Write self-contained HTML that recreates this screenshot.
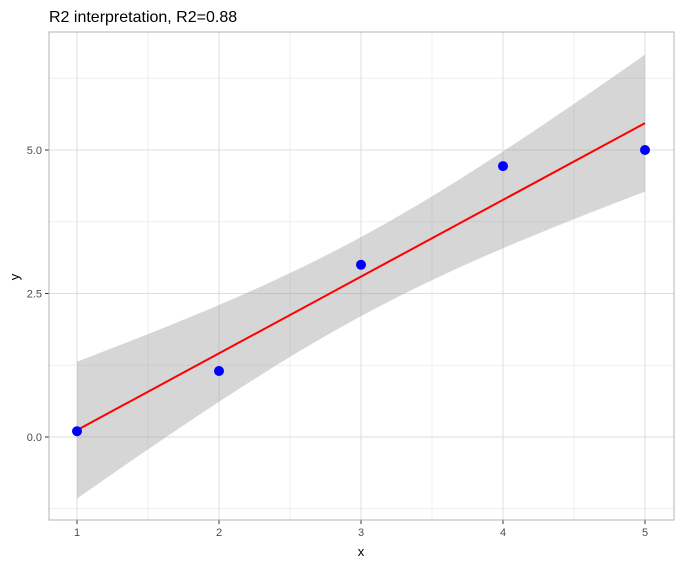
<!DOCTYPE html>
<html><head><meta charset="utf-8"><style>
body{margin:0;background:#fff;font-family:"Liberation Sans",Arial,sans-serif}
</style></head><body>
<svg id="c" width="681" height="566" xmlns="http://www.w3.org/2000/svg">
<text x="49" y="22" font-size="16" fill="#000">R2 interpretation, R2=0.88</text>
<text x="361" y="556" font-size="13" text-anchor="middle" fill="#000">x</text>
<text x="19" y="277" font-size="13" text-anchor="middle" fill="#000" transform="rotate(-90 19 277)">y</text>
</svg>
<script>
const xs=[1,2,3,4,5];
const ys=[0.10,1.15,3.00,4.72,5.00];
const xTicks=[1,2,3,4,5];
const yTicks=[0,2.5,5];
const yTickLabels=["0.0","2.5","5.0"];
const xMinor=[1.5,2.5,3.5,4.5];
const yMinor=[-1.25,1.25,3.75,6.25];
const L=49,R=674,T=32,B=520;
const X=v=>77+(v-1)*142;
const Y=v=>437-v*57.4;
const svg=document.getElementById('c');
const NS='http://www.w3.org/2000/svg';
function mk(t,a){const e=document.createElementNS(NS,t);for(const k in a)e.setAttribute(k,a[k]);svg.appendChild(e);return e;}
// grid
xMinor.forEach(v=>{const e=mk('line',{x1:X(v),x2:X(v),y1:T,y2:B,stroke:'#ebebeb','stroke-width':0.8});});
yMinor.forEach(v=>{const e=mk('line',{x1:L,x2:R,y1:Y(v),y2:Y(v),stroke:'#ebebeb','stroke-width':0.8});});
xTicks.forEach(v=>{const e=mk('line',{x1:X(v),x2:X(v),y1:T,y2:B,stroke:'#dedede','stroke-width':1});
const t=mk('line',{x1:X(v),x2:X(v),y1:B,y2:B+4,stroke:'#333','stroke-width':1});
const l=mk('text',{x:X(v),y:B+16,'font-size':11,'text-anchor':'middle',fill:'#4d4d4d'});l.textContent=v;});
yTicks.forEach((v,i)=>{const e=mk('line',{x1:L,x2:R,y1:Y(v),y2:Y(v),stroke:'#dedede','stroke-width':1});
const t=mk('line',{x1:L-4,x2:L,y1:Y(v),y2:Y(v),stroke:'#333','stroke-width':1});
const l=mk('text',{x:L-7,y:Y(v)+4,'font-size':11,'text-anchor':'end',fill:'#4d4d4d'});l.textContent=yTickLabels[i];});
// regression
const n=xs.length,mx=xs.reduce((a,b)=>a+b)/n,my=ys.reduce((a,b)=>a+b)/n;
let sxx=0,sxy=0;xs.forEach((x,i)=>{sxx+=(x-mx)**2;sxy+=(x-mx)*(ys[i]-my);});
const b=sxy/sxx,a=my-b*mx;let ss=0;xs.forEach((x,i)=>ss+=(ys[i]-a-b*x)**2);
const s=Math.sqrt(ss/(n-2)),tq=3.182;
const xmin=Math.min(...xs),xmax=Math.max(...xs);
let up=[],lo=[];for(let k=0;k<=80;k++){const x=xmin+(xmax-xmin)*k/80,f=a+b*x,h=tq*s*Math.sqrt(1/n+(x-mx)**2/sxx);up.push(X(x)+','+Y(f+h));lo.unshift(X(x)+','+Y(f-h));}
const band=mk('polygon',{points:up.concat(lo).join(' '),fill:'#999','fill-opacity':0.4});
const ln=mk('line',{x1:X(xmin),y1:Y(a+b*xmin),x2:X(xmax),y2:Y(a+b*xmax),stroke:'#ff0000','stroke-width':2});
xs.forEach((x,i)=>{const c=mk('circle',{cx:X(x),cy:Y(ys[i]),r:5,fill:'#0000ff'});});
const fr=mk('rect',{x:L,y:T,width:R-L,height:B-T,fill:'none',stroke:'#b3b3b3','stroke-width':1});
</script>
</body></html>
